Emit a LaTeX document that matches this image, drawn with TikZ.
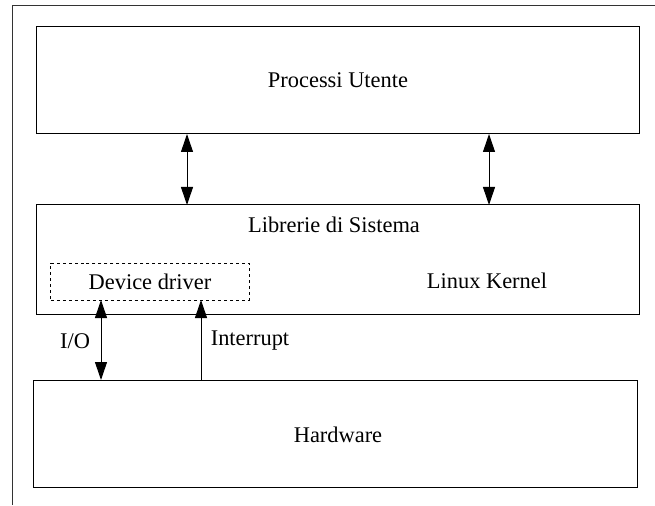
\documentclass[tikz,border=0pt]{standalone}
\usepackage{fontspec}
\setmainfont{Liberation Serif}
\usetikzlibrary{arrows.meta}
\begin{document}
\begin{tikzpicture}[x=1bp,y=-1bp,
  box/.style={draw=black,line width=1bp,inner sep=0pt,outer sep=0pt},
  label/.style={inner sep=0pt,font=\fontsize{22.5}{26}\selectfont},
  link/.style={line width=1bp,{Triangle[length=18bp,width=12bp]}-{Triangle[length=18bp,width=12bp]}},
  uplink/.style={line width=1bp,-{Triangle[length=18bp,width=12bp]}}]
  \useasboundingbox (0,0) rectangle (655,506);
  % frame lines
  \draw[line width=1bp,black!80] (655,6) -- (12,6) -- (12,505);
  % layers
  \node[box,minimum width=602bp,minimum height=107bp] (user) at (338,80.5) {};
  \node[box,minimum width=602bp,minimum height=109bp] (kernel) at (338,259.5) {};
  \node[box,minimum width=603bp,minimum height=107bp] (hw) at (335.5,433.5) {};
  \node[label] (usertext) at (338,80) {Processi Utente};
  \node[label] (hwtext) at (338,435) {Hardware};
  \node[label] (libs) at (334,225) {Librerie di Sistema};
  \node[label] (linux) at (487,281) {Linux Kernel};
  \node[box,dashed,minimum width=198bp,minimum height=37bp,label] (drv) at (150,281.5) {Device driver};
  % connectors
  \coordinate (xa) at (187,0);
  \coordinate (xb) at (489,0);
  \coordinate (xio) at (101,0);
  \coordinate (xirq) at (201,0);
  \draw[link] (xa |- user.south) -- (xa |- kernel.north);
  \draw[link] (xb |- user.south) -- (xb |- kernel.north);
  \draw[link] (xio |- drv.south) -- (xio |- hw.north);
  \draw[uplink] (xirq |- hw.north) -- (xirq |- drv.south);
  \node[label] (io) at (75,341) {I/O};
  \node[label] (irq) at (250,341) {Interrupt};
\end{tikzpicture}
\end{document}
